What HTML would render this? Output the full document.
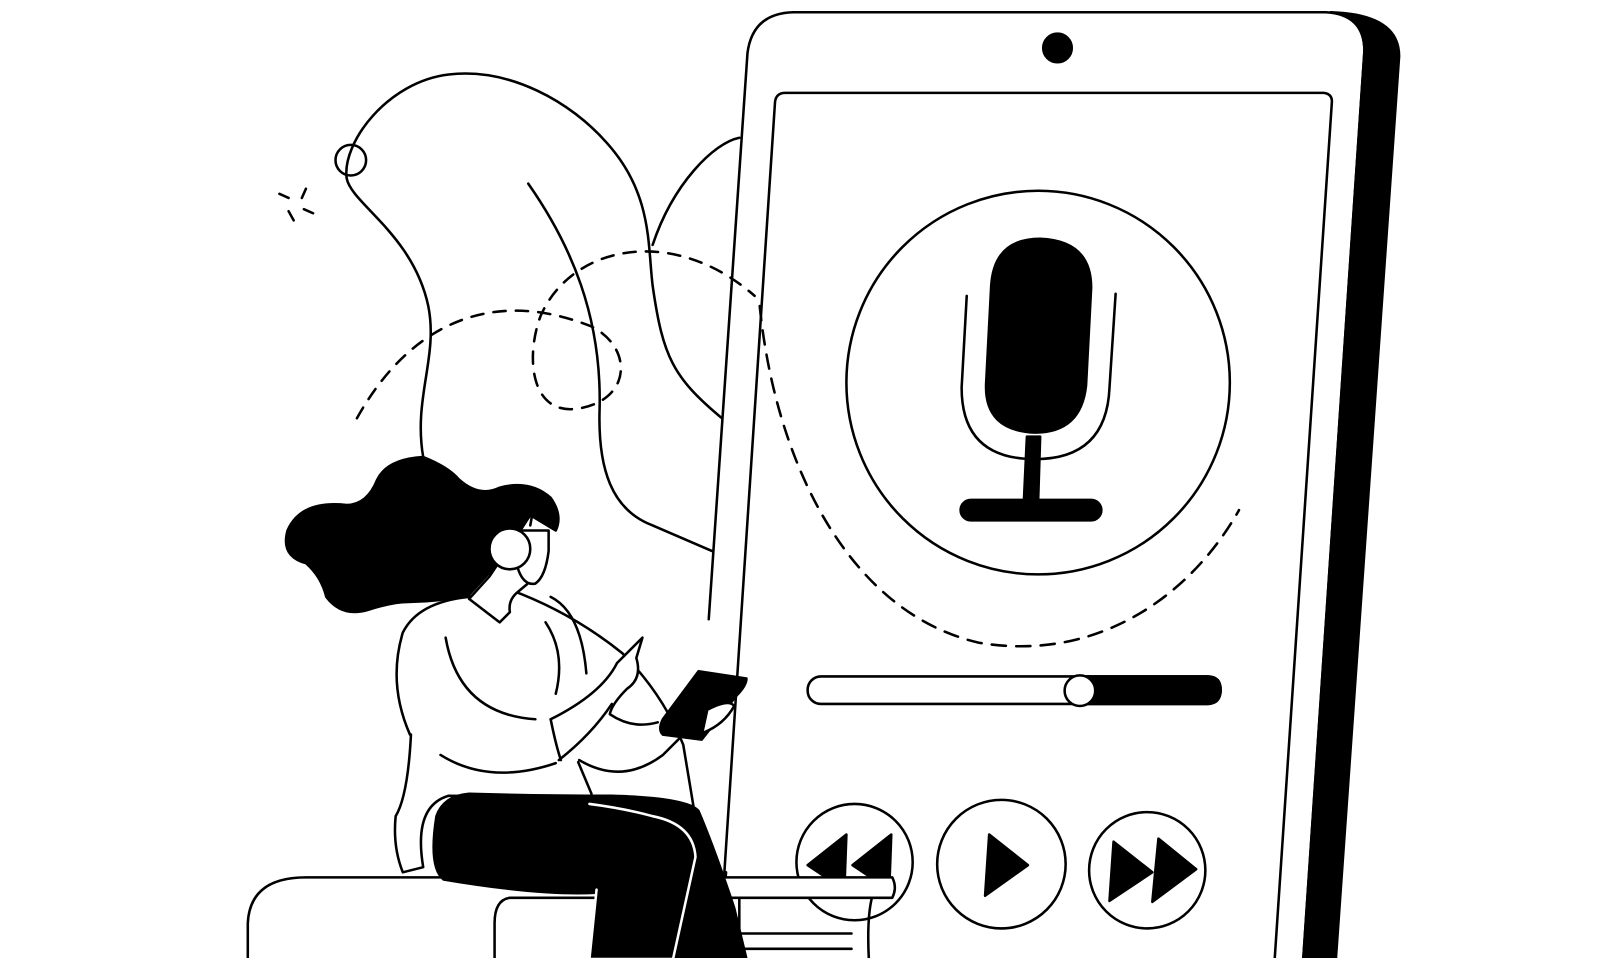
<!DOCTYPE html>
<html><head><style>html,body{margin:0;padding:0;background:#fff;overflow:hidden}svg{display:block}</style></head>
<body>
<svg width="1600" height="958" viewBox="0 0 1569 939" preserveAspectRatio="none" xmlns="http://www.w3.org/2000/svg">
<g fill="none" stroke="#000" stroke-width="2.5" stroke-linecap="round" stroke-linejoin="round">
<!-- background curves -->
<path d="M415,448 C405,390 430,350 420,300 C405,230 345,200 340,175 C335,140 380,80 440,73 C500,66 560,100 595,140 C640,190 635,240 640,280 C650,350 660,370 708,410"/>
<path d="M518,180 C560,240 590,310 588,400 C586,460 600,500 640,515 L698,540"/>
<path d="M640,240 C660,180 700,140 725,135"/>
<circle cx="344" cy="157" r="15"/>
<path d="M274,190 L283,194 M300,185 L296,194 M283,207 L288,216 M298,205 L307,209"/>
<path d="M350,410 C400,320 480,280 580,320 C620,340 620,390 570,400 C520,410 515,350 530,310 C560,240 660,220 740,290" stroke-dasharray="12 10"/>
<!-- phone -->
<path d="M1305,12 Q1372,14 1372,55 L1310,940 L1278,940 L1338,50 Q1338,16 1305,12 Z" fill="#000"/>
<path d="M695,607 L733,52 Q738,13 778,12 L1300,12 Q1338,14 1338,50 L1278,940"/>
<path d="M705,940 L712,855"/>
<path d="M710,860 L760,100 Q761,91 770,91 L1298,91 Q1307,92 1306,101 L1250,940"/>
<circle cx="1037" cy="47" r="14" fill="#000"/>
<!-- mic -->
<circle cx="1018" cy="375" r="188"/>
<path d="M745,300 C760,450 830,600 960,630 C1080,650 1170,580 1215,500" stroke-dasharray="14 10"/>
<path d="M972,280 Q975,234 1020,234 Q1070,236 1070,282 L1065,378 Q1060,424 1015,424 Q965,422 967,376 Z" fill="#000"/>
<path d="M948,290 L943,380 Q943,450 1015,450 Q1085,450 1088,380 L1094,288"/>
<path d="M1007,428 L1020,428 L1018,492 L1004,492 Z" fill="#000"/>
<rect x="942" y="490" width="138" height="20" rx="10" fill="#000"/>
<!-- slider -->
<rect x="792" y="663" width="405" height="27" rx="13"/>
<path d="M1058,663 L1184,663 Q1197,663 1197,676 Q1197,690 1184,690 L1058,690 Z" fill="#000"/>
<circle cx="1059" cy="677" r="15" fill="#fff"/>
<!-- buttons -->
<circle cx="838" cy="845" r="57" fill="#fff"/>
<circle cx="982" cy="847" r="63" fill="#fff"/>
<circle cx="1125" cy="853" r="57" fill="#fff"/>
<path d="M970,818 L1008,848 L966,878 Z" fill="#000"/>
<path d="M1092,825 L1130,855 L1088,883 Z M1136,822 L1173,852 L1130,884 Z" fill="#000"/>
<path d="M830,818 L792,848 L828,872 Z M874,818 L836,848 L872,872 Z" fill="#000"/>
<!-- bench -->
<path d="M243,940 L243,905 Q245,860 300,860 L875,860 Q880,870 875,880 L500,880 Q485,882 485,905 L485,940" fill="#fff"/>
<path d="M855,880 Q850,900 852,940 M725,880 L725,940 M725,915 L835,915 M725,930 L835,930"/>
<!-- woman body -->
<path d="M402,720 Q380,670 395,620 Q410,590 460,585 L500,578 Q560,600 610,640 Q650,680 670,730 L680,790 L575,790 Q480,780 440,780 Q405,790 415,850 L395,855 Q385,830 388,800 Q400,780 403,720 Z" fill="#fff"/>
<path d="M437,625 Q450,700 525,705 M432,740 Q480,770 545,748 M535,610 Q555,640 545,680 M540,585 Q570,600 575,660 M540,705 Q545,730 550,745"/>
<path d="M460,587 L490,610 L500,600 Q498,588 508,580 L520,570 L525,540 L500,535 L480,565 Z" fill="#fff"/>
<!-- hair -->
<path d="M415,448 Q380,450 370,470 Q360,495 340,495 Q295,490 282,520 Q275,545 300,552 Q315,565 320,585 Q335,605 360,598 Q385,590 400,590 Q430,590 460,583 L495,545 Q510,520 520,505 L545,520 Q552,505 540,488 Q520,470 490,478 Q470,488 450,470 Q440,458 415,448 Z" fill="#000"/>
<path d="M505,520 L505,545 Q510,575 525,572 Q535,565 538,540 L538,520 Z" fill="#fff"/>
<path d="M502,520 Q500,478 520,478 Q525,490 520,515" />
<circle cx="500" cy="538" r="20" fill="#fff"/>
<!-- arm & tablet -->
<path d="M540,705 Q590,680 605,650 L630,625 L624,645 Q630,665 615,675 Q600,690 598,700 Q620,715 645,708" fill="#fff"/>
<path d="M548,745 Q580,720 600,690 M568,745 Q610,770 650,740 L690,700"/>
<path d="M685,658 L732,665 Q732,672 722,682 L688,725 L650,720 Q645,715 650,705 Z" fill="#000"/>
<path d="M695,695 Q715,685 720,692 Q710,710 690,718" fill="#fff"/>
<!-- legs -->
<path d="M460,778 Q525,780 600,780 Q675,782 685,795 Q700,830 720,890 L732,940 L660,940 Q670,900 675,860 Q677,835 640,830 Q610,875 585,875 Q530,878 435,862 Q420,850 428,800 Q435,780 460,778 Z" fill="#000"/>
<path d="M585,872 L578,940 L660,940 L682,840 Q680,808 640,800 Q610,792 578,788" fill="#000" stroke="#fff"/>
<path d="M567,747 L580,778"/>
</g>
</svg>
</body></html>
